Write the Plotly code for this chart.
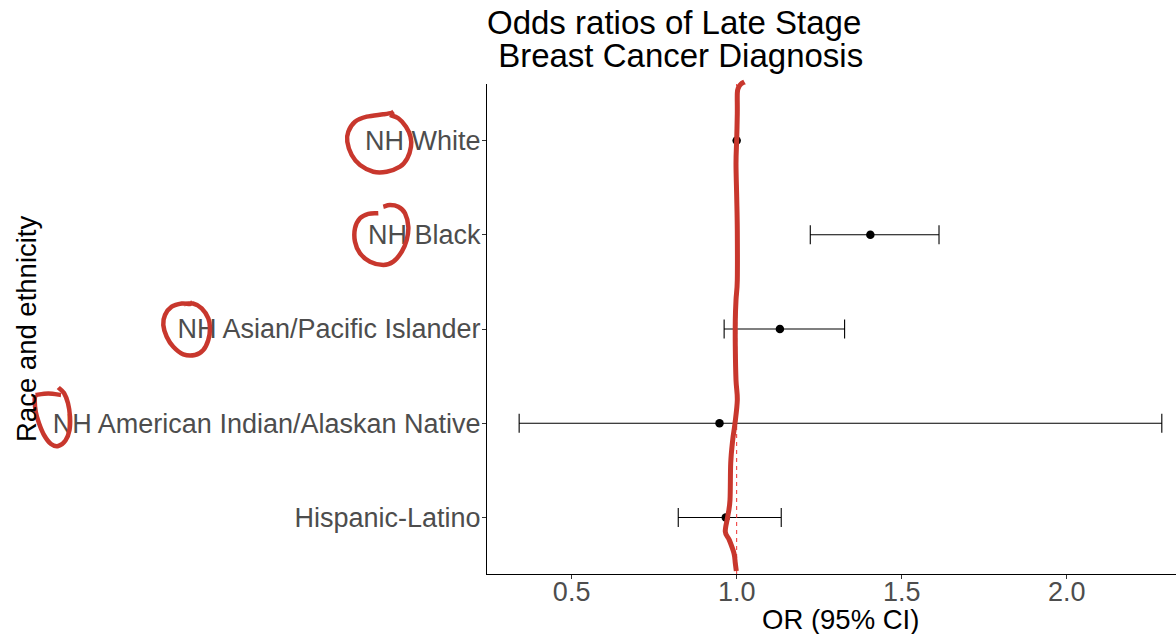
import plotly.graph_objects as go

# ---------------- data ----------------
groups = ["NH White", "NH Black", "NH Asian/Pacific Islander",
          "NH American Indian/Alaskan Native", "Hispanic-Latino"]
odds_ratio = [1.00, 1.405, 1.131, 0.948, 0.967]
ci_lower = [None, 1.223, 0.962, 0.341, 0.823]
ci_upper = [None, 1.613, 1.327, 2.288, 1.135]
x_ticks = [0.5, 1.0, 1.5, 2.0]
x_tick_labels = ["0.5", "1.0", "1.5", "2.0"]
reference_or = 1.0

title_lines = ["Odds ratios of Late Stage", " Breast Cancer Diagnosis"]
x_title = "OR (95% CI)"
y_title = "Race and ethnicity"

# hand-drawn red marks overlaid on the picture (figure pixel coordinates)
scribble_line = [(744.5, 82.0), (741.0, 84.0), (738.5, 87.5), (737.3, 93.3), (737.3, 113.3),
                 (736.7, 139.3), (736.0, 163.3), (736.7, 196.7), (737.3, 230.0),
                 (737.3, 280.0), (736.0, 300.0), (735.3, 320.0), (735.3, 346.7),
                 (736.0, 380.0), (737.3, 400.0), (735.0, 423.3), (732.7, 440.0),
                 (730.7, 463.3), (730.0, 500.0), (727.7, 516.7), (725.3, 531.7),
                 (729.3, 540.0), (734.0, 553.3), (735.3, 563.3), (736.3, 571.0)]
circle_white = [(393.5, 111.5), (391.7, 112.8), (383.3, 114.3), (366.7, 116.7), (355.0, 121.7),
                (348.3, 131.7), (347.3, 141.7), (351.7, 155.0), (360.0, 165.0),
                (373.3, 171.7), (386.7, 171.7), (400.0, 166.7), (407.3, 158.3),
                (411.0, 146.7), (410.5, 136.7), (406.0, 126.7), (398.3, 118.3),
                (390.0, 115.0)]
circle_black = [(378.3, 213.3), (368.3, 213.8), (360.0, 218.3), (355.0, 228.3), (355.0, 241.7),
                (360.0, 253.3), (370.0, 261.7), (383.3, 265.0), (393.3, 261.7),
                (401.7, 251.7), (406.7, 240.0), (408.3, 226.7), (405.0, 213.3),
                (398.3, 206.7), (390.0, 205.0), (383.3, 206.7)]
circle_asian = [(192.5, 302.0), (190.0, 304.0), (181.7, 303.5), (171.7, 306.7), (165.0, 315.0),
                (163.3, 325.0), (166.7, 336.7), (173.3, 346.7), (183.3, 354.3),
                (195.0, 355.0), (203.3, 350.0), (208.3, 340.0), (210.0, 328.3),
                (208.3, 318.3), (201.7, 308.3), (193.0, 303.5), (184.0, 304.0)]
circle_aian_top = [(35.5, 395.0), (48.3, 393.5), (61.0, 395.0)]
circle_aian = [(58.3, 387.5), (64.0, 393.0), (68.0, 403.3), (70.0, 416.7), (69.5, 430.0),
               (65.5, 440.5), (58.3, 446.0), (51.0, 444.0), (44.0, 435.0),
               (39.0, 423.3), (35.7, 411.7), (34.7, 400.0), (35.5, 395.0)]

# ---------------- geometry ----------------
W, H = 1176, 634
ML, MR, MT, MB = 487, 0, 84, 60
PW, PH = W - ML - MR, H - MT - MB
FONT = "Liberation Sans, Arial, Helvetica, sans-serif"
RED = "#C8372D"


def px_x(x):
    return (x - ML) / PW


def px_y(y):
    return (H - MB - y) / PH


def smooth_path(pts):
    p = [(px_x(x), px_y(y)) for x, y in pts]
    d = "M {:.5f},{:.5f}".format(*p[0])
    for i in range(len(p) - 1):
        p0 = p[i - 1] if i > 0 else p[i]
        p1, p2 = p[i], p[i + 1]
        p3 = p[i + 2] if i + 2 < len(p) else p2
        c1 = (p1[0] + (p2[0] - p0[0]) / 6, p1[1] + (p2[1] - p0[1]) / 6)
        c2 = (p2[0] - (p3[0] - p1[0]) / 6, p2[1] - (p3[1] - p1[1]) / 6)
        d += " C {:.5f},{:.5f} {:.5f},{:.5f} {:.5f},{:.5f}".format(*c1, *c2, *p2)
    return d


err_plus = [None if u is None else u - o for u, o in zip(ci_upper, odds_ratio)]
err_minus = [None if l is None else o - l for l, o in zip(ci_lower, odds_ratio)]

fig = go.Figure()
fig.add_trace(go.Scatter(
    x=odds_ratio, y=groups, mode="markers",
    marker=dict(color="black", size=8.5),
    error_x=dict(type="data", symmetric=False, array=err_plus, arrayminus=err_minus,
                 color="black", thickness=1.1, width=9.5),
    showlegend=False, hoverinfo="x+y",
))

shapes = [dict(type="line", xref="x", yref="paper", x0=reference_or, x1=reference_or,
               y0=0, y1=1, line=dict(color="#F03030", width=1, dash="4px,4px"), layer="above")]
for pts, w in [(scribble_line, 5), (circle_white, 4.5), (circle_black, 4.5),
               (circle_asian, 4.5), (circle_aian_top, 4.5), (circle_aian, 4.5)]:
    shapes.append(dict(type="path", xref="paper", yref="paper", path=smooth_path(pts),
                       line=dict(color=RED, width=w), layer="above"))

annotations = [
    dict(text=title_lines[0], x=px_x(674), y=px_y(22.5), xref="paper", yref="paper",
         xanchor="center", yanchor="middle", showarrow=False,
         font=dict(family=FONT, size=33, color="black")),
    dict(text=title_lines[1], x=px_x(676), y=px_y(56), xref="paper", yref="paper",
         xanchor="center", yanchor="middle", showarrow=False,
         font=dict(family=FONT, size=33, color="black")),
    dict(text=x_title, x=px_x(840), y=px_y(619), xref="paper", yref="paper",
         xanchor="center", yanchor="middle", showarrow=False,
         font=dict(family=FONT, size=27.5, color="black")),
    dict(text=y_title, x=px_x(26), y=px_y(329), xref="paper", yref="paper",
         xanchor="center", yanchor="middle", showarrow=False, textangle=-90,
         font=dict(family=FONT, size=27.5, color="black")),
]

fig.update_layout(
    width=W, height=H,
    margin=dict(l=ML, r=MR, t=MT, b=MB, pad=0),
    paper_bgcolor="white", plot_bgcolor="white",
    font=dict(family=FONT),
    shapes=shapes, annotations=annotations,
    xaxis=dict(range=[0.2436, 2.331], tickvals=x_ticks, ticktext=x_tick_labels,
               showgrid=False, zeroline=False, showline=True, linecolor="black",
               linewidth=1.1, ticks="outside", ticklen=4, tickcolor="#333333",
               tickwidth=1.1, ticklabelstandoff=-10,
               tickfont=dict(family=FONT, size=27, color="#4D4D4D")),
    yaxis=dict(type="category", categoryorder="array", categoryarray=groups,
               range=[4.6, -0.6], showgrid=False, zeroline=False, showline=True,
               linecolor="black", linewidth=1.1, ticks="outside", ticklen=4,
               tickcolor="#333333", tickwidth=1.1, ticklabelstandoff=-4,
               tickfont=dict(family=FONT, size=27, color="#4D4D4D")),
)

fig.write_html("out.html", config={"displayModeBar": False},
               post_script="document.body.style.margin='0px';")
